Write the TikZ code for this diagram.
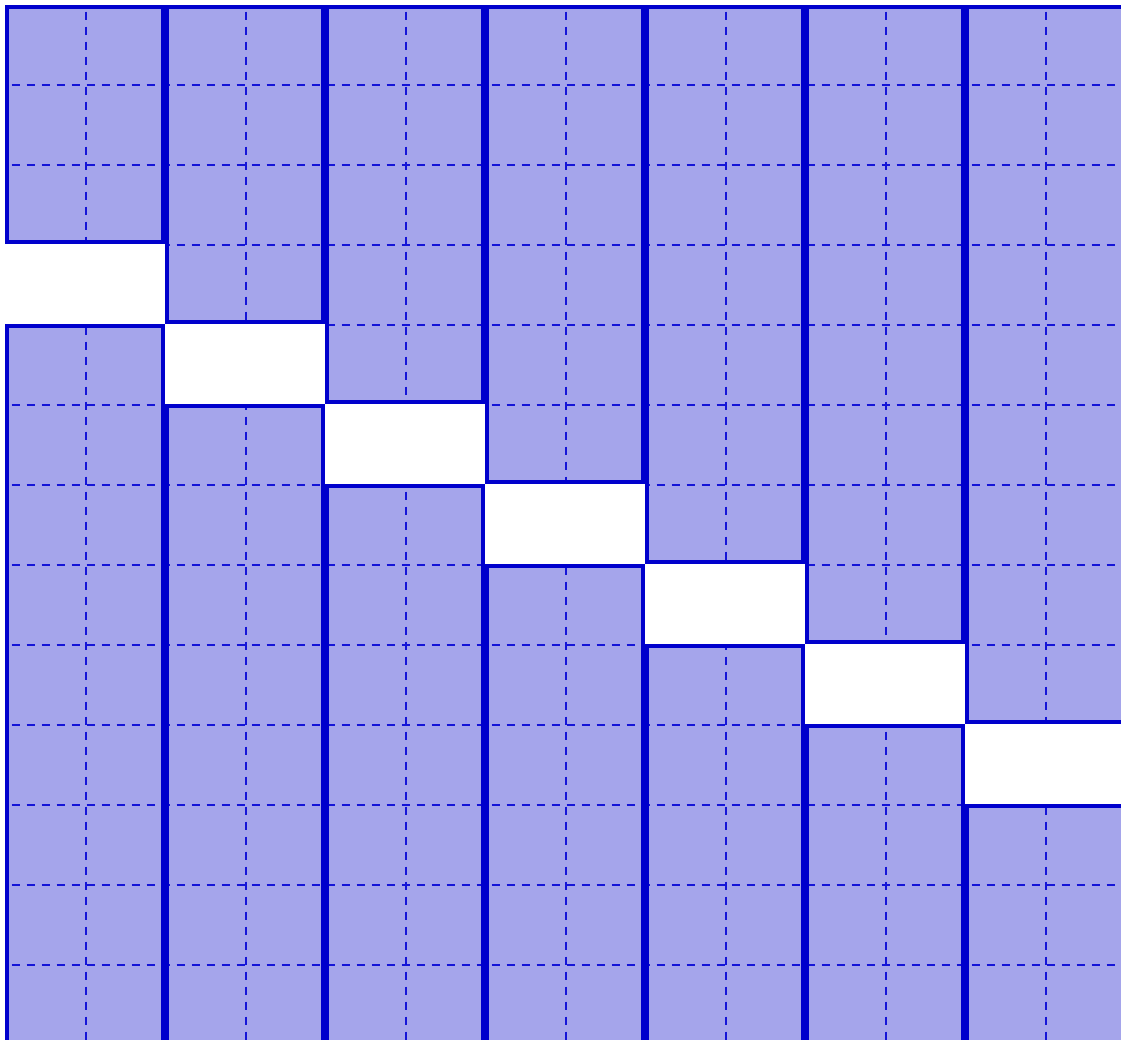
\documentclass[tikz,border=0pt]{standalone}
\definecolor{edge}{RGB}{0,0,204}
\definecolor{dashc}{RGB}{20,20,215}
\definecolor{cellfill}{RGB}{165,165,235}
\begin{document}
\begin{tikzpicture}[x=0.5pt,y=-0.5pt,
  outline/.style={draw=edge,line width=2pt},
  gridline/.style={draw=dashc,line width=1pt,dash pattern=on 4pt off 3.5pt,dash phase=-2.5pt},
  cell/.style={fill=cellfill}]
\clip (0,0) rectangle (1121,1040);
% fills
\foreach \i in {0,...,6}{
  \path[cell] ({6.5+160*\i},6.5) rectangle ({162.5+160*\i},{241.5+80*\i});
  \path[cell] ({6.5+160*\i},{325.5+80*\i}) rectangle ({162.5+160*\i},1080);
}
% dashed grid, only inside the filled bars
\begin{scope}
  \clip \foreach \i in {0,...,6}{
    ({6.5+160*\i},6.5) rectangle ({162.5+160*\i},{241.5+80*\i})
    ({6.5+160*\i},{325.5+80*\i}) rectangle ({162.5+160*\i},1080)};
  \foreach \k in {0,...,13}
    \draw[gridline] ({86+80*\k},6.5) -- ({86+80*\k},1080);
  \foreach \k in {0,...,11}
    \draw[gridline] (6.5,{85+80*\k}) -- (1130,{85+80*\k});
\end{scope}
% outlines
\foreach \i in {0,...,6}{
  \draw[outline] ({6.5+160*\i},6.5) rectangle ({162.5+160*\i},{241.5+80*\i});
  \draw[outline] ({6.5+160*\i},{325.5+80*\i}) rectangle ({162.5+160*\i},1080);
}
\end{tikzpicture}
\end{document}
